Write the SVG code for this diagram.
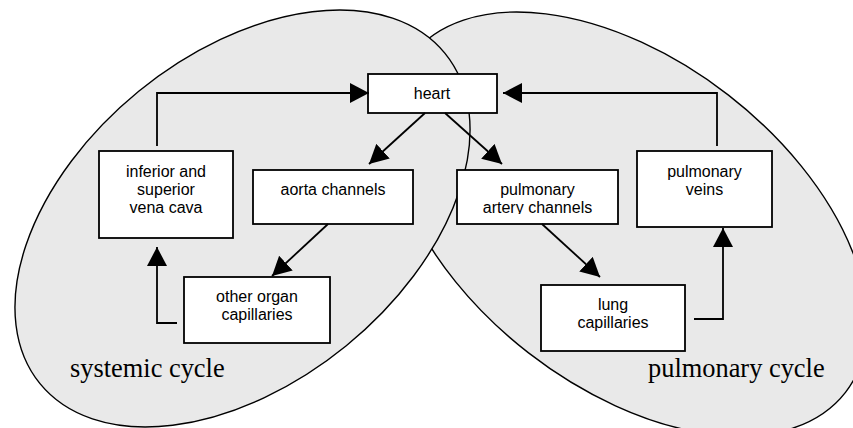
<svg xmlns="http://www.w3.org/2000/svg" width="853" height="428" viewBox="0 0 853 428">
<style>
.cycle{fill:#e9e9e9;stroke:#000;stroke-width:1.4}
.box{fill:#fff;stroke:#000;stroke-width:1.8}
.t{font-family:"Liberation Sans",Arial,sans-serif;font-size:16px;fill:#000;text-anchor:middle}
.lbl{font-family:"Liberation Serif","Times New Roman",serif;font-size:26.4px;fill:#000}
.c{fill:none;stroke:#000;stroke-width:1.8}
</style>
<defs>
<marker id="ah" markerUnits="userSpaceOnUse" markerWidth="20" markerHeight="20" refX="19" refY="10" orient="auto">
<path d="M0,0 L19,10 L0,20 z" fill="#000"/>
</marker>
<clipPath id="clipArt"><rect x="457" y="170" width="161" height="44"/></clipPath>
</defs>
<g id="pulmonary-cycle">
<ellipse class="cycle" cx="628.5" cy="224" rx="274.6" ry="163.1" transform="rotate(37.8 628.5 224)"/>
<text class="lbl" x="648" y="377">pulmonary cycle</text>
</g>
<g id="systemic-cycle">
<ellipse class="cycle" cx="242.5" cy="218.5" rx="261.3" ry="164.2" transform="rotate(-39.2 242.5 218.5)"/>
<text class="lbl" x="70" y="377">systemic cycle</text>
</g>
<g id="heart"><rect class="box" x="368" y="74" width="129" height="39"/><text class="t" x="432" y="99">heart</text></g>
<g id="vena-cava"><rect class="box" x="99" y="151" width="134" height="87"/><text class="t" x="166" y="177">inferior and</text><text class="t" x="166" y="195">superior</text><text class="t" x="166" y="213">vena cava</text></g>
<g id="aorta"><rect class="box" x="253" y="170" width="160" height="54"/><text class="t" x="333" y="195">aorta channels</text></g>
<g id="pulmonary-artery"><rect class="box" x="457" y="170" width="161" height="54"/><text class="t" x="537.5" y="195">pulmonary</text><text class="t" x="537.5" y="213" clip-path="url(#clipArt)">artery channels</text></g>
<g id="pulmonary-veins"><rect class="box" x="637" y="151" width="135" height="76"/><text class="t" x="704.5" y="177">pulmonary</text><text class="t" x="704.5" y="195">veins</text></g>
<g id="other-organ"><rect class="box" x="184" y="277" width="146" height="66"/><text class="t" x="257" y="302">other organ</text><text class="t" x="257" y="320">capillaries</text></g>
<g id="lung"><rect class="box" x="541" y="285" width="144" height="66"/><text class="t" x="613" y="310">lung</text><text class="t" x="613" y="328">capillaries</text></g>
<g id="connectors">
<path class="c" d="M157,146 V93 H369" marker-end="url(#ah)"/>
<path class="c" d="M717,146 V93 H503" marker-end="url(#ah)"/>
<path class="c" d="M425,113 L369,164" marker-end="url(#ah)"/>
<path class="c" d="M445,113 L502,164" marker-end="url(#ah)"/>
<path class="c" d="M328,224 L272,276" marker-end="url(#ah)"/>
<path class="c" d="M542,224 L600,277" marker-end="url(#ah)"/>
<path class="c" d="M177,323 H157 V247" marker-end="url(#ah)"/>
<path class="c" d="M694,319 H723 V228" marker-end="url(#ah)"/>
</g>
</svg>
